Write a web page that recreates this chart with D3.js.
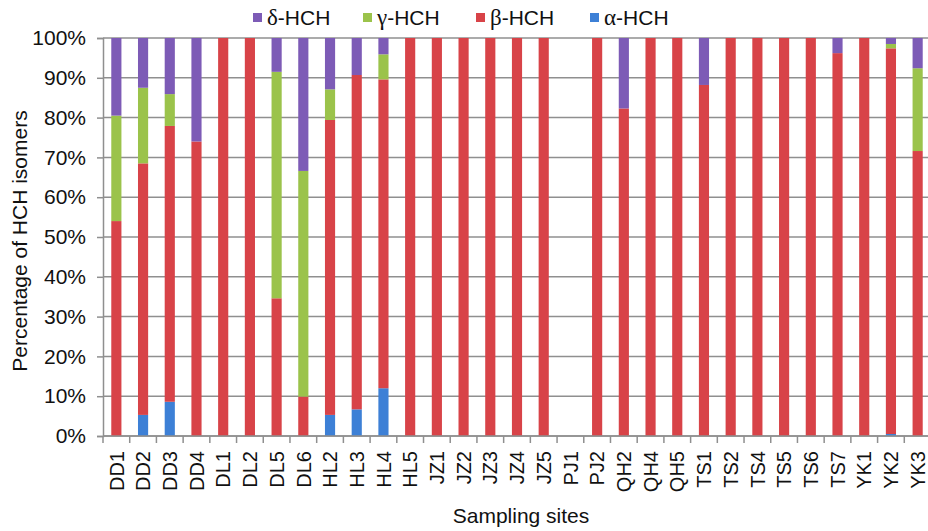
<!DOCTYPE html>
<html>
<head>
<meta charset="utf-8">
<script src="https://cdn.jsdelivr.net/npm/d3@7"></script>
<style>
html,body{margin:0;padding:0;background:#fff;}
svg{display:block;font-family:"Liberation Sans",Arial,Helvetica,sans-serif;}
</style>
</head>
<body>
<svg id="chart" width="928" height="531"></svg>
<script>
const sites = ["DD1","DD2","DD3","DD4","DL1","DL2","DL5","DL6","HL2","HL3","HL4","HL5","JZ1","JZ2","JZ3","JZ4","JZ5","PJ1","PJ2","QH2","QH4","QH5","TS1","TS2","TS4","TS5","TS6","TS7","YK1","YK2","YK3"];
const alphaHCH = [0,5.3,8.6,0,0,0,0,0,5.3,6.7,12,0,0,0,0,0,0,0,0,0,0,0,0,0,0,0,0,0,0,0.5,0];
const betaHCH  = [54,63.2,69.3,74,100,100,34.6,9.9,74.1,84,77.6,100,100,100,100,100,100,0,100,82.3,100,100,88.2,100,100,100,100,96.2,100,96.9,71.6];
const gammaHCH = [26.5,19,8,0,0,0,56.9,56.7,7.7,0,6.3,0,0,0,0,0,0,0,0,0,0,0,0,0,0,0,0,0,0,1.1,20.8];
const deltaHCH = [19.5,12.5,14.1,26,0,0,8.5,33.4,12.9,9.3,4.1,0,0,0,0,0,0,0,0,17.7,0,0,11.8,0,0,0,0,3.8,0,1.5,7.6];
const yTicks = [0,10,20,30,40,50,60,70,80,90,100];
const seriesKeys = ["alpha","beta","gamma","delta"];
const seriesGreek = {alpha:"α", beta:"β", gamma:"γ", delta:"δ"};
const legendOrder = ["delta","gamma","beta","alpha"];
const colors = {alpha:"#3d80d6", beta:"#d84348", gamma:"#9bc34b", delta:"#7d5bb6"};

const rows = sites.map((s,i)=>({site:s, alpha:alphaHCH[i], beta:betaHCH[i], gamma:gammaHCH[i], delta:deltaHCH[i]}));

const svg = d3.select("#chart");
const pLeft = 103, pRight = 931, pTop = 38, pBottom = 436;

const x = d3.scaleBand().domain(sites).range([pLeft,pRight]).padding(0);
const y = d3.scaleLinear().domain([0,100]).range([pBottom,pTop]);

// gridlines
svg.append("g").selectAll("line").data(yTicks).join("line")
  .attr("x1",pLeft).attr("x2",928)
  .attr("y1",d=>y(d)).attr("y2",d=>y(d))
  .attr("stroke","#8f8f8f").attr("stroke-width",1.5);

// y axis
const yAxis = d3.axisLeft(y).tickValues(yTicks).tickSize(6).tickPadding(11).tickFormat(d=>d+"%");
const gy = svg.append("g").attr("transform",`translate(${pLeft},0)`).call(yAxis);
gy.select(".domain").attr("stroke","#8f8f8f").attr("stroke-width",1.5);
gy.selectAll(".tick line").attr("stroke","#8f8f8f").attr("stroke-width",1.5);
gy.selectAll(".tick text").attr("font-size",21).attr("fill","#111").attr("font-family","Liberation Sans, Arial, sans-serif");

// stacked bars
const stack = d3.stack().keys(seriesKeys);
const stacked = stack(rows);
const barW = x.bandwidth()*0.38;
svg.append("g").selectAll("g").data(stacked).join("g")
  .attr("fill",d=>colors[d.key])
  .selectAll("rect").data(d=>d).join("rect")
  .attr("x",d=>x(d.data.site)+x.bandwidth()/2-barW/2)
  .attr("width",barW)
  .attr("y",d=>y(d[1]))
  .attr("height",d=>Math.max(0,y(d[0])-y(d[1])));

// x axis
const xAxis = d3.axisBottom(x).tickSize(0).tickPadding(0).tickFormat(d=>d);
const gx = svg.append("g").attr("transform",`translate(0,${pBottom})`).call(xAxis);
gx.select(".domain").remove();
gx.selectAll(".tick text")
  .attr("font-size",20).attr("fill","#111")
  .attr("text-anchor","end")
  .attr("transform","rotate(-90)")
  .attr("x",-15).attr("y",0).attr("dy","0.36em");
// x baseline and boundary ticks
svg.append("line").attr("x1",pLeft).attr("x2",928).attr("y1",pBottom).attr("y2",pBottom)
  .attr("stroke","#8f8f8f").attr("stroke-width",1.5);
const bounds = sites.map(s=>x(s)).concat([x(sites[sites.length-1])+x.bandwidth()]);
svg.append("g").selectAll("line").data(bounds).join("line")
  .attr("x1",d=>d).attr("x2",d=>d).attr("y1",pBottom).attr("y2",pBottom+7)
  .attr("stroke","#8f8f8f").attr("stroke-width",1.5);

// axis titles
svg.append("text").attr("x",(pLeft+pRight)/2+4).attr("y",523)
  .attr("text-anchor","middle").attr("font-size",21).attr("fill","#111").text("Sampling sites");
svg.append("text").attr("transform",`translate(27,${(pTop+pBottom)/2+4}) rotate(-90)`)
  .attr("text-anchor","middle").attr("font-size",21).attr("fill","#111").text("Percentage of HCH isomers");

// legend
const legendX = [253,363,476,590];
const lg = svg.append("g").selectAll("g").data(legendOrder).join("g")
  .attr("transform",(d,i)=>`translate(${legendX[i]},0)`);
lg.append("rect").attr("x",0).attr("y",13).attr("width",9).attr("height",9).attr("fill",d=>colors[d]);
const lt = lg.append("text").attr("x",14).attr("y",25).attr("font-size",21).attr("fill","#111");
lt.append("tspan").attr("font-family","Liberation Serif, Times New Roman, serif").attr("font-size",23).text(d=>seriesGreek[d]);
lt.append("tspan").text("-HCH");
</script>
</body>
</html>
